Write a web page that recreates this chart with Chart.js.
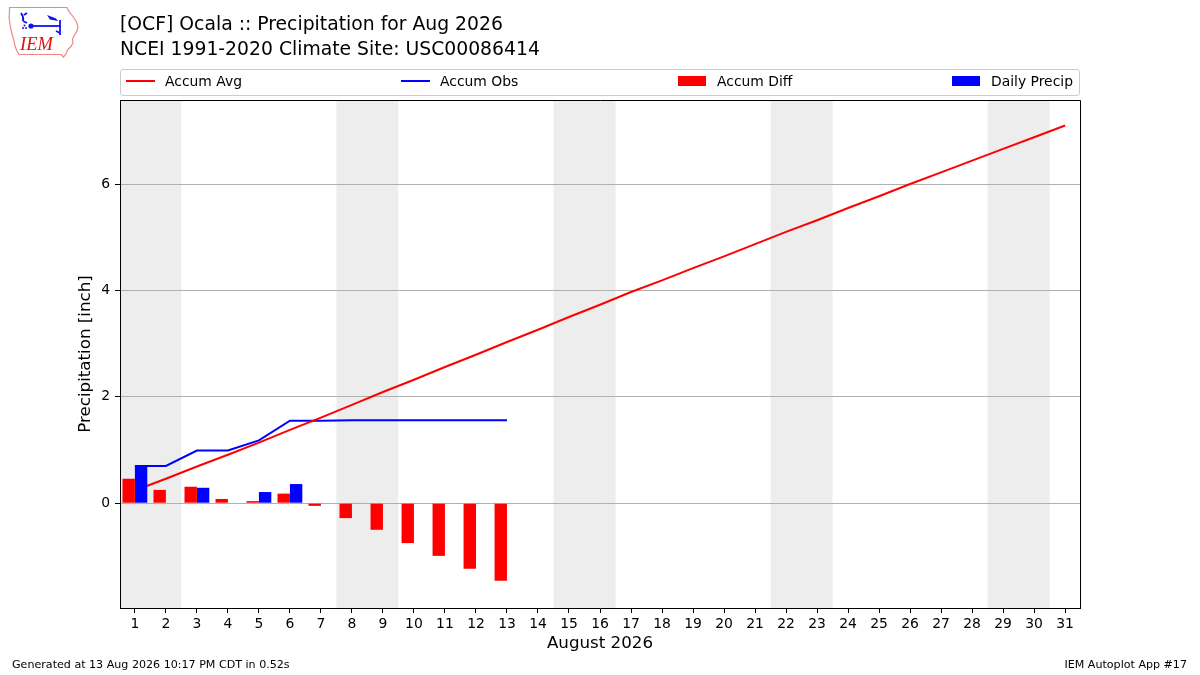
<!DOCTYPE html>
<html>
<head>
<meta charset="utf-8">
<script src="https://cdn.jsdelivr.net/npm/chart.js@4.4.1/dist/chart.umd.min.js"></script>
<style>
html,body{margin:0;padding:0;background:#fff;}
#wrap{position:relative;width:1200px;height:675px;overflow:hidden;font-family:"DejaVu Sans",sans-serif;color:#000;background:#fff;}
#c{position:absolute;left:0;top:0;}
.t{position:absolute;white-space:nowrap;line-height:1;}
#legend{position:absolute;left:120px;top:69px;width:958px;height:25px;border:1px solid #cccccc;border-radius:3px;background:rgba(255,255,255,0.8);}
.lh{position:absolute;}
</style>
</head>
<body>
<div id="wrap">
<canvas id="c" width="1200" height="675"></canvas>
<svg style="position:absolute;left:0;top:0" width="90" height="65" viewBox="0 0 90 65">
  <path d="M9.5,7.5 L67,7.5 L68.5,11 L71,14 L74,18 L76.5,22 L78,27 L77,31 L74.5,35 L72.5,39 L73,43 L70.5,47 L67.5,50 L66,54 L63.5,57 L61,54.5 L19,54.5 L17,51 L15,46 L14,41 L12.5,36 L11,30 L10,24 L9,17 L9.5,12 Z" fill="none" stroke="#ee8888" stroke-width="1.2"/>
  <g stroke="#1010ee" stroke-width="1.8" fill="none">
    <line x1="31" y1="26" x2="60" y2="26"/>
    <path d="M21,13 Q24,17 23,21 M23,21 L27,23 M24,15 L27,13"/>
    <line x1="60" y1="20" x2="60" y2="35"/>
    <path d="M56,31 L60,33"/>
  </g>
  <circle cx="31" cy="26" r="2.6" fill="#1010ee"/>
  <polygon points="47,15 56,18.5 58,21 50,19.5" fill="#1010ee"/>
  <circle cx="23" cy="28" r="1" fill="#1010ee"/>
  <circle cx="26" cy="28" r="1" fill="#1010ee"/>
  <circle cx="24.5" cy="25.5" r="1" fill="#1010ee"/>
  <text x="20" y="50" font-family="Liberation Serif" font-style="italic" font-size="18.5" fill="#dd1111">IEM</text>
</svg>
<div class="t" style="left:120px;top:15px;font-size:18.8px">[OCF] Ocala :: Precipitation for Aug 2026</div>
<div class="t" style="left:120px;top:39.5px;font-size:18.8px">NCEI 1991-2020 Climate Site: USC00086414</div>
<div id="legend"></div>
<div class="t" style="left:12px;top:659px;font-size:11.1px">Generated at 13 Aug 2026 10:17 PM CDT in 0.52s</div>
<div class="t" style="right:13px;top:659px;font-size:11.1px">IEM Autoplot App #17</div>
</div>
<script>
// ---- data ----
const days = [1,2,3,4,5,6,7,8,9,10,11,12,13,14,15,16,17,18,19,20,21,22,23,24,25,26,27,28,29,30,31];
const accumAvg = [0.24,0.46,0.69,0.91,1.14,1.38,1.61,1.85,2.09,2.32,2.56,2.79,3.03,3.26,3.50,3.73,3.97,4.19,4.42,4.64,4.87,5.10,5.32,5.55,5.77,6.00,6.22,6.44,6.66,6.88,7.10];
const obsDays = [1,2,3,4,5,6,7,8,9,10,11,12,13];
const accumObs = [0.70,0.70,0.99,0.99,1.18,1.55,1.55,1.56,1.56,1.56,1.56,1.56,1.56];
const accumDiff = [0.46,0.25,0.31,0.08,0.04,0.18,-0.05,-0.28,-0.50,-0.75,-0.99,-1.23,-1.46];
const dailyPrecip = [0.71,0,0.29,0,0.21,0.36,0,0.01,0,0,0,0,0];
const yTicks = [0,2,4,6];
const weekendStarts = [1,8,15,22,29];
const xLabel = 'August 2026';
const yLabel = 'Precipitation [inch]';
const seriesNames = ['Accum Avg','Accum Obs','Accum Diff','Daily Precip'];

const toXY = (xs, ys) => ys.map((v, i) => ({x: xs[i], y: v}));
const FONT = 'DejaVu Sans';

const shadePlugin = {
  id: 'shade',
  beforeDraw(chart) {
    const {ctx, chartArea: a, scales: {x}} = chart;
    ctx.save();
    ctx.fillStyle = '#ededed';
    weekendStarts.forEach(d => {
      const x0 = Math.max(a.left, x.getPixelForValue(d - 0.5));
      const x1 = Math.min(a.right, x.getPixelForValue(d + 1.5));
      ctx.fillRect(x0, a.top, x1 - x0, a.bottom - a.top);
    });
    ctx.restore();
  }
};
const framePlugin = {
  id: 'frame',
  afterDraw(chart) {
    const {ctx, chartArea: a} = chart;
    ctx.save();
    ctx.strokeStyle = '#000';
    ctx.lineWidth = 1;
    ctx.beginPath();
    ctx.moveTo(a.left, a.top + 0.5);
    ctx.lineTo(a.right + 0.5, a.top + 0.5);
    ctx.lineTo(a.right + 0.5, a.bottom + 0.5);
    ctx.stroke();
    ctx.restore();
  }
};

const chart = new Chart(document.getElementById('c').getContext('2d'), {
  type: 'bar',
  data: {
    datasets: [
      {type: 'line', label: seriesNames[0], data: toXY(days, accumAvg), borderColor: '#ff0000', backgroundColor: '#ff0000', borderWidth: 2, pointRadius: 0, tension: 0, fill: false, order: 1},
      {type: 'line', label: seriesNames[1], data: toXY(obsDays, accumObs), borderColor: '#0000ff', backgroundColor: '#0000ff', borderWidth: 2, pointRadius: 0, tension: 0, fill: false, order: 1},
      {type: 'bar', label: seriesNames[2], data: toXY(obsDays, accumDiff), backgroundColor: '#ff0000', borderWidth: 0, order: 0},
      {type: 'bar', label: seriesNames[3], data: toXY(obsDays, dailyPrecip), backgroundColor: '#0000ff', borderWidth: 0, order: 0}
    ]
  },
  options: {
    responsive: false,
    animation: false,
    devicePixelRatio: 1,
    layout: {padding: {top: 100, right: 120, bottom: 0, left: 0}},
    datasets: {bar: {categoryPercentage: 0.8, barPercentage: 1.0}},
    plugins: {legend: {display: false}, tooltip: {enabled: false}, title: {display: false}},
    scales: {
      x: {
        type: 'linear', min: 0.52, max: 31.48, offset: false,
        afterFit(s) { s.height = 67; },
        afterBuildTicks(s) { s.ticks = days.map(v => ({value: v})); },
        ticks: {font: {family: FONT, size: 13.9}, color: '#000', padding: 3, autoSkip: false, maxRotation: 0, callback: v => String(v)},
        grid: {offset: false, drawOnChartArea: false, tickLength: 5, tickColor: '#000', tickWidth: 1},
        border: {color: '#000', width: 1},
        title: {display: true, text: xLabel, color: '#000', font: {family: FONT, size: 16.7}, padding: {top: 0, bottom: 21}}
      },
      y: {
        type: 'linear', min: -1.97, max: 7.58,
        afterFit(s) { s.width = 120; },
        afterBuildTicks(s) { s.ticks = yTicks.map(v => ({value: v})); },
        ticks: {font: {family: FONT, size: 13.9}, color: '#000', padding: 5, callback: v => String(v)},
        grid: {color: '#b0b0b0', lineWidth: 1, tickColor: '#000', tickLength: 5},
        border: {color: '#000', width: 1},
        title: {display: true, text: yLabel, color: '#000', font: {family: FONT, size: 16.7}, padding: {top: 76, bottom: 0}}
      }
    }
  },
  plugins: [shadePlugin, framePlugin]
});

// legend built from the chart's datasets
const legendLeft = [5, 280, 557, 831];
const leg = document.getElementById('legend');
chart.data.datasets.forEach((ds, i) => {
  const h = document.createElement('div');
  h.className = 'lh';
  h.style.left = legendLeft[i] + 'px';
  h.style.background = ds.type === 'line' ? ds.borderColor : ds.backgroundColor;
  if (ds.type === 'line') { h.style.top = '10px'; h.style.width = '29px'; h.style.height = '2px'; }
  else { h.style.top = '6px'; h.style.width = '28px'; h.style.height = '10px'; }
  leg.appendChild(h);
  const t = document.createElement('div');
  t.className = 't';
  t.style.left = (legendLeft[i] + 39) + 'px';
  t.style.top = '5.2px';
  t.style.fontSize = '13.9px';
  t.textContent = ds.label;
  leg.appendChild(t);
});
</script>
</body>
</html>
